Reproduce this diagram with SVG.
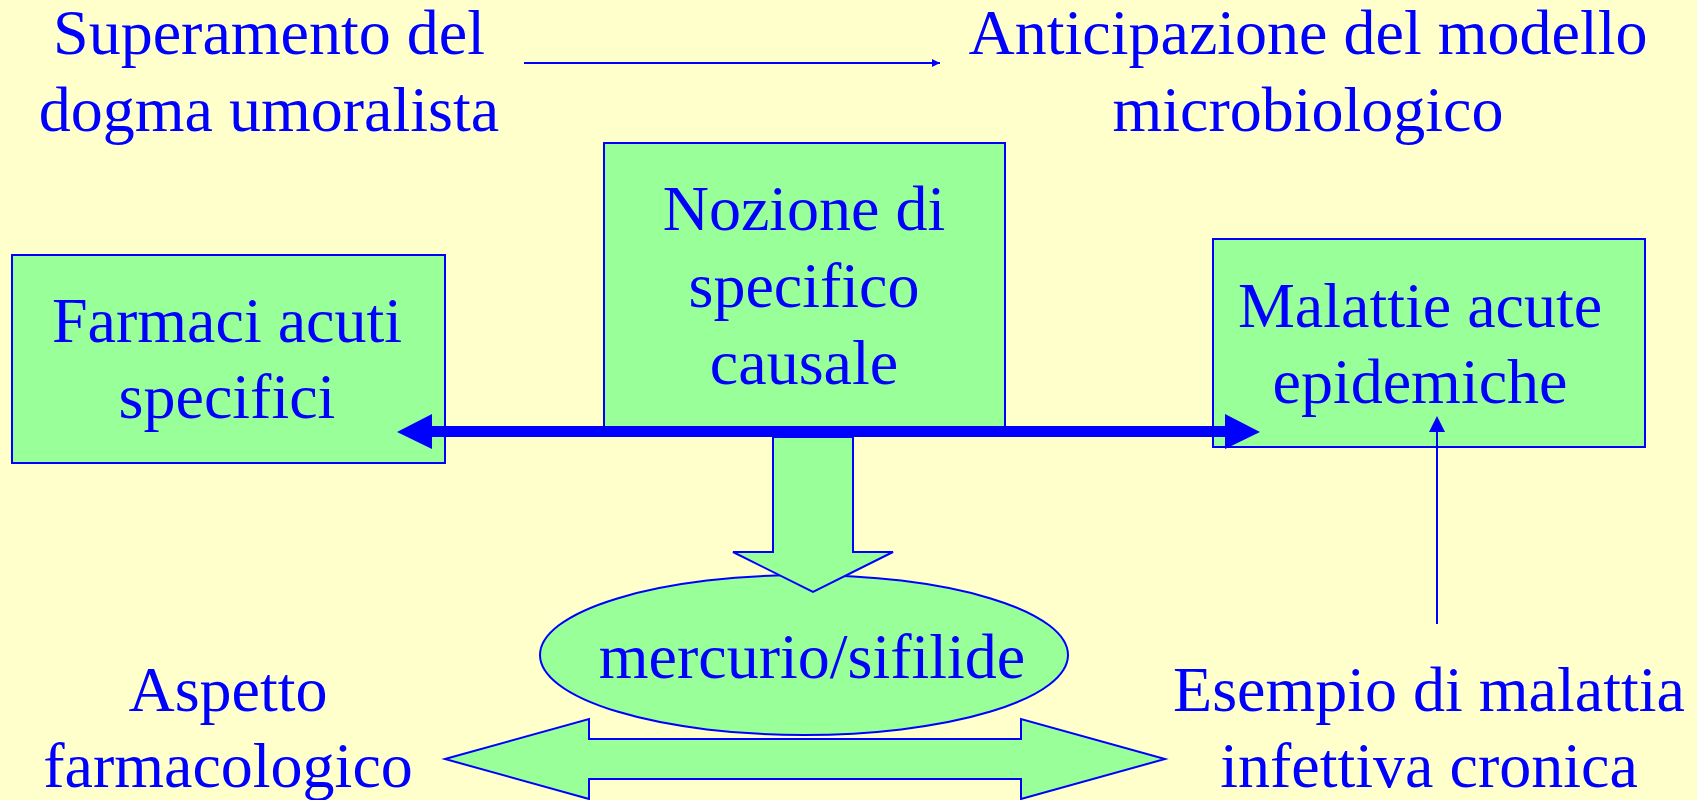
<svg xmlns="http://www.w3.org/2000/svg" width="1697" height="800" viewBox="0 0 1697 800">
<style>
.t{font-family:"Liberation Serif","Times New Roman",serif;font-size:64px;fill:#0000FF;text-anchor:middle}
.box{fill:#99FF99;stroke:#0000FF;stroke-width:2}
</style>
<defs>
<marker id="thin" viewBox="0 0 10 10" refX="10" refY="5" markerWidth="8" markerHeight="8" markerUnits="userSpaceOnUse" orient="auto"><path d="M0,0 L10,5 L0,10 z" fill="#0000FF"/></marker>
</defs>
<rect width="1697" height="800" fill="#FFFFCC"/>
<g id="top-left"><text class="t" x="269" y="54">Superamento del</text><text class="t" x="269" y="131">dogma umoralista</text></g>
<g id="top-right"><text class="t" x="1308" y="54">Anticipazione del modello</text><text class="t" x="1308" y="131">microbiologico</text></g>
<g id="farmaci"><rect class="box" x="12" y="255" width="433" height="208"/><text class="t" x="227" y="342">Farmaci acuti</text><text class="t" x="227" y="418">specifici</text></g>
<g id="malattie"><rect class="box" x="1213" y="239" width="432" height="208"/><text class="t" x="1420" y="327">Malattie acute</text><text class="t" x="1420" y="403">epidemiche</text></g>
<g id="nozione"><rect class="box" x="604" y="143" width="401" height="288"/><text class="t" x="804" y="230">Nozione di</text><text class="t" x="804" y="307">specifico</text><text class="t" x="804" y="384">causale</text></g>
<g id="mercurio"><ellipse class="box" cx="804" cy="655" rx="264" ry="80"/><text class="t" x="812" y="678">mercurio/sifilide</text></g>
<g id="aspetto"><text class="t" x="228" y="711">Aspetto</text><text class="t" x="228" y="787">farmacologico</text></g>
<g id="esempio"><text class="t" x="1429" y="711">Esempio di malattia</text><text class="t" x="1429" y="787">infettiva cronica</text></g>
<g id="connectors">
<line x1="524" y1="63" x2="940" y2="63" stroke="#0000FF" stroke-width="2" marker-end="url(#thin)"/>
<rect x="430" y="426" width="797" height="11" fill="#0000FF"/>
<path d="M397,432 L432,414 L432,449 z" fill="#0000FF"/>
<path d="M1260,432 L1225,414 L1225,449 z" fill="#0000FF"/>
<line x1="1437" y1="624" x2="1437" y2="430" stroke="#0000FF" stroke-width="2"/>
<path d="M1437,416 L1445,432 L1429,432 z" fill="#0000FF"/>
<path class="box" d="M773,437 L853,437 L853,552 L893,552 L813,592 L733,552 L773,552 z"/>
<path class="box" d="M445,759 L589,719 L589,739 L1021,739 L1021,719 L1165,759 L1021,799 L1021,779 L589,779 L589,799 z"/>
</g>
</svg>
